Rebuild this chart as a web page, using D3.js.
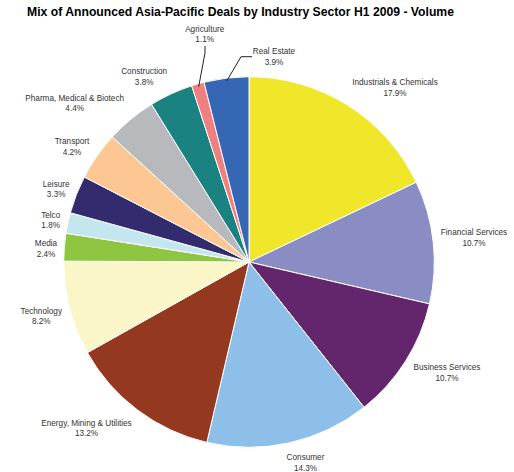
<!DOCTYPE html>
<html>
<head>
<meta charset="utf-8">
<script src="https://cdn.jsdelivr.net/npm/d3@7"></script>
<style>
  html, body { margin: 0; padding: 0; background: #fff; }
  svg { display: block; }
</style>
</head>
<body>
<svg id="chart" width="514" height="472"></svg>
<script>
// Sector share of announced deal volume, clockwise from 12 o'clock
const sectors = [
  "Industrials & Chemicals", "Financial Services", "Business Services", "Consumer",
  "Energy, Mining & Utilities", "Technology", "Media", "Telco", "Leisure",
  "Transport", "Pharma, Medical & Biotech", "Construction", "Agriculture", "Real Estate"
];
const shares = [17.9, 10.7, 10.7, 14.3, 13.2, 8.2, 2.4, 1.8, 3.3, 4.2, 4.4, 3.8, 1.1, 3.9];
const colors = [
  "#f0e62a", "#8a8cc4", "#63256b", "#8dbfe8", "#943820", "#faf6c8", "#8ec641",
  "#c4e6ef", "#322c6e", "#fdc793", "#b8b9bc", "#1b8282", "#f08080", "#3567b5"
];

// Label placement: centre x and first-line baseline y for each sector
const labelPos = [
  [395, 85], [474, 235], [447, 370], [305.5, 460], [86.5, 425.5], [41.3, 313.5],
  [46, 246], [50.7, 217.7], [56.2, 186.7], [72, 144.3], [74.7, 100.7],
  [144.2, 74], [204.7, 31.7], [274, 54.3]
];
// Leader lines (elbow points) for the labels that sit away from their slice
const leaders = { "Agriculture": [[205, 46], [205, 53]], "Real Estate": [[252, 56.7], [241, 56.7]] };

const svg = d3.select("#chart");
const cx = 249, cy = 262, R = 185.3;

svg.append("text")
  .attr("x", 240.5).attr("y", 15.5)
  .attr("text-anchor", "middle")
  .attr("font-family", "Liberation Sans, Arial, sans-serif")
  .attr("font-weight", "bold")
  .attr("font-size", 12.2)
  .attr("fill", "#000")
  .text("Mix of Announced Asia-Pacific Deals by Industry Sector H1 2009 - Volume");

const data = sectors.map((s, i) => ({ name: s, value: shares[i], color: colors[i], pos: labelPos[i] }));

const pie = d3.pie().value(d => d.value).sort(null);
const arcs = pie(data);
const arc = d3.arc().innerRadius(0).outerRadius(R);
const edge = d3.arc().innerRadius(R - 3).outerRadius(R - 3);

const g = svg.append("g").attr("transform", `translate(${cx},${cy})`);

g.selectAll("path.slice")
  .data(arcs)
  .join("path")
  .attr("class", "slice")
  .attr("d", arc)
  .attr("fill", d => d.data.color)
  .attr("stroke", "#fff")
  .attr("stroke-width", 1);

// leader lines from label to slice edge
arcs.filter(a => leaders[a.data.name]).forEach(a => {
  const c = edge.centroid(a);
  const pts = leaders[a.data.name].concat([[cx + c[0], cy + c[1]]]);
  svg.append("path")
    .attr("d", d3.line()(pts))
    .attr("fill", "none")
    .attr("stroke", "#222")
    .attr("stroke-width", 1);
});

const labels = svg.selectAll("text.lbl")
  .data(arcs)
  .join("text")
  .attr("class", "lbl")
  .attr("text-anchor", "middle")
  .attr("font-family", "Liberation Sans, Arial, sans-serif")
  .attr("font-size", 8.2)
  .attr("fill", "#333");

labels.append("tspan")
  .attr("x", d => d.data.pos[0])
  .attr("y", d => d.data.pos[1])
  .text(d => d.data.name);
labels.append("tspan")
  .attr("x", d => d.data.pos[0])
  .attr("y", d => d.data.pos[1] + 10.7)
  .text(d => d.data.value.toFixed(1) + "%");
</script>
</body>
</html>
